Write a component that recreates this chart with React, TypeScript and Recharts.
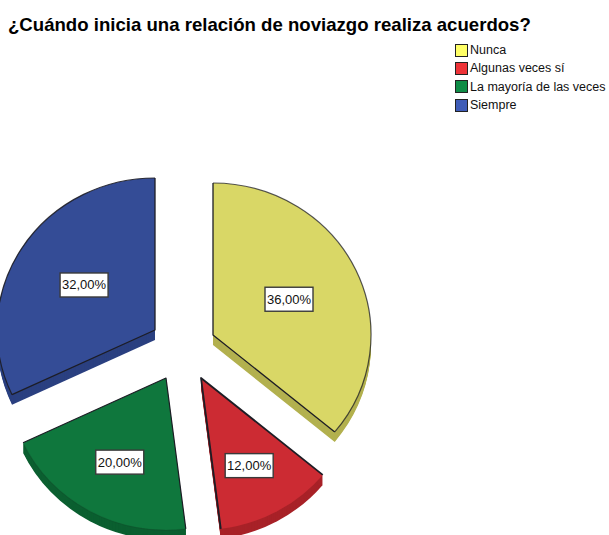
import { PieChart, Pie, Cell, Legend } from "recharts";

const categories = ["Nunca", "Algunas veces sí", "La mayoría de las veces", "Siempre"];
const percents = [36, 12, 20, 32];

const topColors = ["#D9D766", "#CC2B33", "#0F773D", "#344C96"];
const sideColors = ["#B3B14F", "#A82228", "#0B5F30", "#2B4080"];
const legendColors = ["#FFFF66", "#EE3338", "#0E8C46", "#3E5CB8"];

// explode offset of each slice from the pie centre
const explodeX = [29.5, 17.5, -17.5, -28.5];
const explodeY = [-11, 32, 32, -16];
// where the value box sits, distance from the slice tip
const labelRadius = [84, 100, 96, 84];
// how dark the outline of the curved edge is on each slice
const arcOpacity = [0.75, 0, 0.12, 0.9];
const edgeWidth = [1.3, 1.8, 1.2, 1.3];

const data = categories.map((name, i) => ({ name, value: percents[i] }));

const RAD = Math.PI / 180;
const SQUASH = 0.962;
const DEPTH = 10;

const slicePoints = (cx: number, cy: number, r: number, start: number, end: number) => ({
  x1: cx + r * Math.cos(start * RAD),
  y1: cy - r * SQUASH * Math.sin(start * RAD),
  x2: cx + r * Math.cos(end * RAD),
  y2: cy - r * SQUASH * Math.sin(end * RAD),
  large: Math.abs(end - start) > 180 ? 1 : 0,
});

const renderSlice = (props: any) => {
  const i = categories.indexOf(props.name ?? props.payload?.name);
  const cx = props.cx + explodeX[i];
  const cy = props.cy + explodeY[i];
  const r = props.outerRadius;
  const { x1, y1, x2, y2, large } = slicePoints(cx, cy, r, props.startAngle, props.endAngle);
  const arc = `M${x1},${y1}A${r},${r * SQUASH} 0 ${large} 1 ${x2},${y2}`;
  const d = `M${cx},${cy}L${x1},${y1}A${r},${r * SQUASH} 0 ${large} 1 ${x2},${y2}Z`;
  const edges = `M${x1},${y1}L${cx},${cy}L${x2},${y2}`;
  const steps = Array.from({ length: DEPTH }, (_, k) => DEPTH - k);
  return (
    <g>
      {steps.map((s) => (
        <path key={s} d={d} transform={`translate(0,${s})`} fill={sideColors[i]} />
      ))}
      <path d={d} fill={topColors[i]} />
      <path d={arc} fill="none" stroke="#1d1d25" strokeOpacity={arcOpacity[i]} strokeWidth={1.2} />
      <path d={edges} fill="none" stroke="#1d1d25" strokeWidth={edgeWidth[i]} strokeLinejoin="round" />
    </g>
  );
};

const renderValueBox = (props: any) => {
  const i = categories.indexOf(props.name ?? props.payload?.name);
  const x = props.cx + explodeX[i] + labelRadius[i] * Math.cos(props.midAngle * RAD);
  const y = props.cy + explodeY[i] - labelRadius[i] * Math.sin(props.midAngle * RAD);
  return (
    <g>
      <rect x={x - 24} y={y - 12} width={48} height={24} fill="#fff" stroke="#3a3a3a" strokeWidth={1.4} />
      <text x={x} y={y + 4.5} textAnchor="middle" fontSize={13} fontFamily="Liberation Sans" fill="#111">
        {percents[i]},00%
      </text>
    </g>
  );
};

const renderLegend = () => (
  <div style={{ fontFamily: "Liberation Sans", fontSize: 12.5, color: "#111", lineHeight: "18.4px" }}>
    {categories.map((c, i) => (
      <div key={c} style={{ display: "flex", alignItems: "center", height: 18.4, whiteSpace: "nowrap" }}>
        <span
          style={{
            width: 11,
            height: 11,
            marginRight: 2,
            background: legendColors[i],
            border: "1px solid #222",
          }}
        />
        {c}
      </div>
    ))}
  </div>
);

const App = () => {
  return (
    <div style={{ position: "fixed", left: 0, top: 0, width: 609, height: 535, overflow: "hidden", background: "#fff" }}>
      <div
        style={{
          position: "absolute",
          left: 8,
          top: 14,
          fontFamily: "Liberation Sans",
          fontWeight: "bold",
          fontSize: 18.6,
          color: "#000",
          whiteSpace: "nowrap",
        }}
      >
        ¿Cuándo inicia una relación de noviazgo realiza acuerdos?
      </div>
      <PieChart width={609} height={535} margin={{ top: 0, right: 0, bottom: 0, left: 0 }}>
        <Pie
          data={data}
          dataKey="value"
          nameKey="name"
          cx={183.5}
          cy={346}
          outerRadius={158}
          startAngle={90}
          endAngle={-270}
          stroke="none"
          shape={renderSlice}
          label={renderValueBox}
          labelLine={false}
          isAnimationActive={false}
        >
          {data.map((_, index) => (
            <Cell key={index} fill={topColors[index]} />
          ))}
        </Pie>
        <Legend
          layout="vertical"
          content={renderLegend}
          wrapperStyle={{ position: "absolute", left: 455, top: 41, width: 154, bottom: "auto" }}
        />
      </PieChart>
    </div>
  );
};

export default App;
